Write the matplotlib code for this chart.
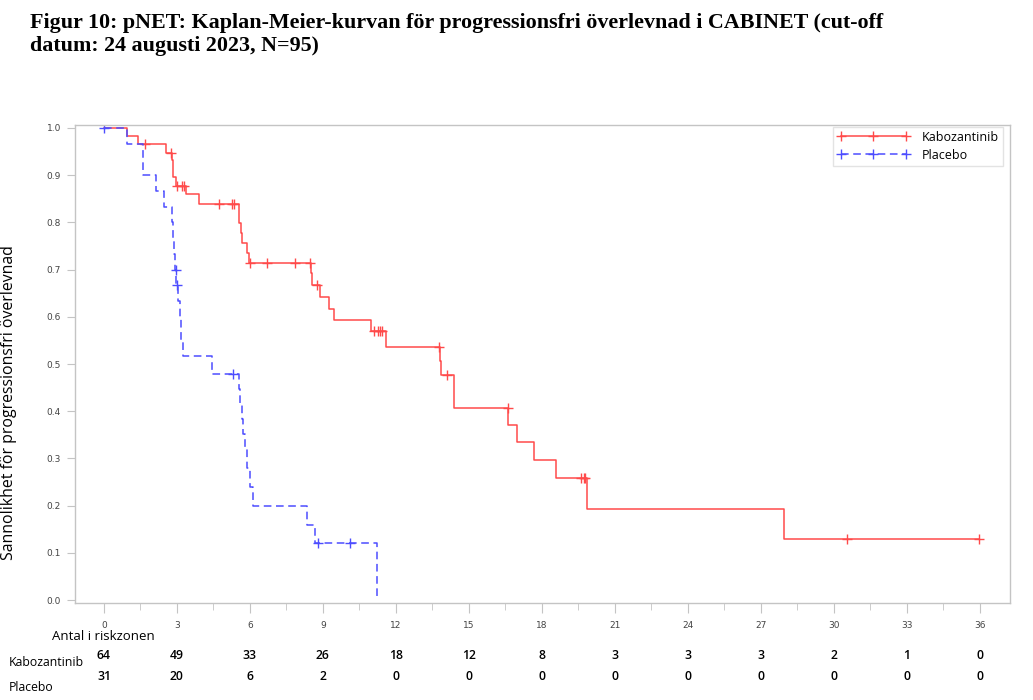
import numpy as np
import matplotlib
matplotlib.use("Agg")
import matplotlib.pyplot as plt
from matplotlib.lines import Line2D
from matplotlib.ticker import MultipleLocator
import matplotlib.transforms as mtransforms

# Kabozantinib: event times (months) and survival after each step
kabo_t = [0, 0.96, 1.41, 2.53, 2.80, 2.84, 2.95, 3.38, 3.92, 5.55, 5.62, 5.66, 5.89, 5.97,
          8.52, 8.56, 8.86, 9.26, 9.47, 10.99, 11.59, 13.80, 13.85, 14.38, 16.62, 16.97,
          17.69, 18.59, 19.85, 27.96, 35.95]
kabo_s = [1.0, 0.984, 0.967, 0.948, 0.932, 0.897, 0.878, 0.860, 0.840, 0.798, 0.777, 0.756,
          0.735, 0.713, 0.692, 0.667, 0.643, 0.617, 0.593, 0.569, 0.537, 0.507, 0.476, 0.408,
          0.370, 0.334, 0.296, 0.258, 0.194, 0.129, 0.129]
kabo_cens = [1.70, 2.77, 2.99, 3.22, 3.30, 4.74, 5.25, 5.33, 6.02, 6.72, 7.85, 8.48, 8.77,
             11.12, 11.25, 11.34, 11.44, 13.78, 14.08, 16.59, 19.60, 19.74, 19.77, 30.55, 35.95]

# Placebo
plac_t = [0, 0.96, 1.59, 2.12, 2.47, 2.78, 2.82, 2.86, 2.90, 2.98, 3.06, 3.12, 3.18, 3.24,
          4.46, 5.55, 5.60, 5.66, 5.72, 5.80, 5.90, 6.00, 6.14, 8.33, 8.67, 11.23]
plac_s = [1.0, 0.967, 0.90, 0.867, 0.833, 0.80, 0.767, 0.733, 0.70, 0.667, 0.633, 0.60, 0.55,
          0.517, 0.48, 0.448, 0.416, 0.384, 0.352, 0.32, 0.28, 0.24, 0.20, 0.16, 0.12, 0.0]
plac_cens = [0.0, 2.96, 3.01, 5.29, 8.78, 10.11]

risk_times = [0, 3, 6, 9, 12, 15, 18, 21, 24, 27, 30, 33, 36]
risk_kabo = [64, 49, 33, 26, 18, 12, 8, 3, 3, 3, 2, 1, 0]
risk_plac = [31, 20, 6, 2, 0, 0, 0, 0, 0, 0, 0, 0, 0]

RED = "#ff4a4a"
BLUE = "#4d4dff"
GRID = "#c4c4c4"
SANS = ["Open Sans", "DejaVu Sans"]


def surv_at(t, s, c):
    idx = np.searchsorted(t, c, side="right") - 1
    return np.array(s)[idx]


fig = plt.figure(figsize=(10.33, 7.0), dpi=100)
ax = fig.add_axes([0.0726, 0.1386, 0.9051, 0.6833])

ax.step(kabo_t, kabo_s, where="post", color=RED, lw=1.1)
ax.plot(kabo_cens, surv_at(kabo_t, kabo_s, kabo_cens), ls="none", marker="+",
        color=RED, ms=7, mew=1)
ax.step(plac_t, plac_s, where="post", color=BLUE, lw=1.1, dashes=(5, 3))
ax.plot(plac_cens, surv_at(plac_t, plac_s, plac_cens), ls="none", marker="+",
        color=BLUE, ms=7, mew=1)

ax.set_xlim(-1.19, 37.24)
ax.set_ylim(-0.006, 1.007)
ax.xaxis.set_major_locator(MultipleLocator(3))
ax.xaxis.set_minor_locator(MultipleLocator(1.5))
ax.yaxis.set_major_locator(MultipleLocator(0.1))
ax.yaxis.set_major_formatter(matplotlib.ticker.FormatStrFormatter("%.1f"))
ax.tick_params(axis="both", which="both", color=GRID, labelcolor="#444444", labelsize=6.5)
ax.tick_params(axis="x", which="major", length=7, pad=6)
ax.tick_params(axis="x", which="minor", length=5)
ax.tick_params(axis="y", length=6, pad=4)
for sp in ax.spines.values():
    sp.set_color(GRID)
    sp.set_linewidth(1)

ax.set_ylabel("Sannolikhet för progressionsfri överlevnad", fontsize=11.4, family=SANS)
ax.yaxis.set_label_coords(-0.062, 0.42)

handles = [
    Line2D([], [], color=RED, lw=1.1, marker="+", ms=7, mew=1),
    Line2D([], [], color=BLUE, lw=1.1, dashes=(5, 3), marker="+", ms=7, mew=1),
]
leg = ax.legend(handles, ["Kabozantinib", "Placebo"], loc="upper right",
                bbox_to_anchor=(0.9925, 0.995), numpoints=3, handlelength=5.8,
                fancybox=False, edgecolor="#dddddd", prop={"family": SANS, "size": 9},
                borderpad=0.3, labelspacing=0.4, handletextpad=1.0, borderaxespad=0)
leg.get_frame().set_linewidth(1)

fig.text(0.029, 0.981, "Figur 10: pNET: Kaplan-Meier-kurvan för progressionsfri överlevnad i CABINET (cut-off\n"
         "datum: 24 augusti 2023, N=95)", ha="left", va="top", fontsize=15.8,
         fontweight="bold", family="Liberation Serif", linespacing=1.15)

# risk table
trans = mtransforms.blended_transform_factory(ax.transData, fig.transFigure)
fig.text(0.05, 0.09, "Antal i riskzonen", fontsize=9.5, family=SANS, va="center")
fig.text(0.008, 0.054, "Kabozantinib", fontsize=8.8, family=SANS, va="center")
fig.text(0.008, 0.018, "Placebo", fontsize=8.8, family=SANS, va="center")
for x, k, p in zip(risk_times, risk_kabo, risk_plac):
    ax.text(x, 0.063, str(k), transform=trans, ha="center", va="center", fontsize=8.8,
            family=SANS, fontweight="semibold")
    ax.text(x, 0.033, str(p), transform=trans, ha="center", va="center", fontsize=8.8,
            family=SANS, fontweight="semibold")

fig.savefig("out.png", dpi=100)
